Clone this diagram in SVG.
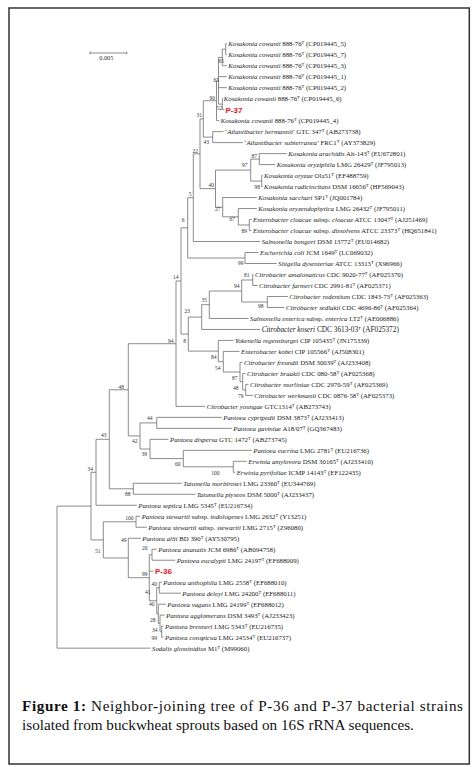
<svg xmlns="http://www.w3.org/2000/svg" width="472" height="767" viewBox="0 0 472 767">
<style>
.l{stroke:#6e6e6e;stroke-width:0.8;fill:none}
.t{font-family:"Liberation Serif","Times New Roman",serif;font-size:6.8px;fill:#222}
.k{font-size:7.3px}
.i{font-style:italic}
.s{font-size:4.6px}
.b{font-family:"Liberation Serif","Times New Roman",serif;font-size:5.5px;fill:#333;text-anchor:end}
.red{font-family:"Liberation Sans",Arial,sans-serif;font-weight:bold;font-size:8px;fill:#e8141b}
.cap{font-family:"Liberation Serif","Times New Roman",serif;font-size:15.2px;fill:#111}
</style>
<rect x="9" y="8" width="460.3" height="756" fill="#fff" stroke="#333" stroke-width="1.5"/>
<g id="scalebar">
<path class="l" d="M90 53H126.7M90 51.5V54.5M126.7 51.5V54.5"/>
<text x="106.3" y="59.5" font-family="Liberation Serif,serif" font-size="6.2" text-anchor="middle" fill="#333">0.005</text>
</g>
<g id="connectors" class="l">
<path d="M225.7 43.7V54.7M225.7 43.7H226.8M225.7 54.7H226.8"/>
<path d="M222.3 49.2V65.7M222.3 49.2H225.7M222.3 65.7H226.8"/>
<path d="M222.3 98.65V109.64M222.3 98.65H223.3M222.3 109.64H224.3"/>
<path d="M218.5 57.45V104.15M218.5 57.45H222.3M218.5 76.67H226.8M218.5 87.66H226.8M218.5 104.15H222.3"/>
<path d="M216.5 80.8V120.63M216.5 80.8H218.5M216.5 120.63H219.5"/>
<path d="M212.7 131.62V142.61M212.7 131.62H223.5M212.7 142.61H242.8"/>
<path d="M203.3 100.7V137.1M203.3 100.7H216.5M203.3 137.1H212.7"/>
<path d="M259.3 153.6V164.59H275.2M259.3 153.6H286.8"/>
<path d="M261.7 175.58V186.57H262.8M261.7 175.58H262.8"/>
<path d="M250.7 159.1V181.1H261.7M250.7 159.1H259.3"/>
<path d="M249.3 219.54V230.53H251.5M249.3 219.54H251.5"/>
<path d="M238.3 208.55V225H249.3M238.3 208.55H256.8"/>
<path d="M222.7 197.56V216.8H238.3M222.7 197.56H256.8"/>
<path d="M215.5 170.1V207.2H222.7M215.5 170.1H250.7"/>
<path d="M200 118.9V188.65H215.5M200 118.9H203.3"/>
<path d="M193.3 153.8V241.52H260.2M193.3 153.8H200"/>
<path d="M245 252.51V263.5H276.8M245 252.51H258.5"/>
<path d="M187.7 197.7V258H245M187.7 197.7H193.3"/>
<path d="M252.7 274.49V285.48H257.5M252.7 274.49H253.5"/>
<path d="M267.3 296.47V307.46H284.5M267.3 296.47H287.8"/>
<path d="M241.7 280V302H267.3M241.7 280H252.7"/>
<path d="M209.3 291V318.45H248.5M209.3 291H241.7"/>
<path d="M201.7 304.7V329.44H260M201.7 304.7H209.3"/>
<path d="M245.7 384.39V395.38H252.8M245.7 384.39H248.5"/>
<path d="M242.7 373.4V389.9H245.7M242.7 373.4H245.5"/>
<path d="M240 362.41V381.65H242.7M240 362.41H242.5"/>
<path d="M223.3 351.42V372H240M223.3 351.42H239.5"/>
<path d="M218.3 340.43V361.7H223.3M218.3 340.43H233.5"/>
<path d="M188.3 317.1V351.1H218.3M188.3 317.1H201.7"/>
<path d="M181 227.85V334.1H188.3M181 227.85H187.7"/>
<path d="M176 281V406.37H205.2M176 281H181"/>
<path d="M156.7 417.36V428.35H231.8M156.7 417.36H221.8"/>
<path d="M233.3 461.32V472.31H235.2M233.3 461.32H246.8"/>
<path d="M183.3 450.33V466.8H233.3M183.3 450.33H251.8"/>
<path d="M150 439.34V458.6H183.3M150 439.34H168.5"/>
<path d="M140 422.9V449H150M140 422.9H156.7"/>
<path d="M128.3 343.7V435.9H140M128.3 343.7H176"/>
<path d="M133.3 483.3V494.29H195.2M133.3 483.3H181.8"/>
<path d="M109.3 389.8V488.8H133.3M109.3 389.8H128.3"/>
<path d="M96 439.3V505.28H136.8M96 439.3H109.3"/>
<path d="M136 516.27V527.26H146.8M136 516.27H140.2"/>
<path d="M161.7 626.17V637.16H163.5M161.7 626.17H163.5"/>
<path d="M160 615.18V631.7H161.7M160 615.18H164.5"/>
<path d="M158.3 604.19V623.4H160M158.3 604.19H165.8"/>
<path d="M159.3 582.21V593.2H180.8M159.3 582.21H161.8"/>
<path d="M156.7 587.7V613.8H158.3M156.7 587.7H159.3"/>
<path d="M152 549.24V560.23H175.2M152 549.24H156.8"/>
<path d="M149.3 554.7V600.75H156.7M149.3 554.7H152M149.3 571.22H153.5"/>
<path d="M128.3 538.25V577.7H149.3M128.3 538.25H140.8"/>
<path d="M103.3 521.8V558H128.3M103.3 521.8H136"/>
<path d="M91 472.3V539.9H103.3M91 472.3H96"/>
<path d="M57 506.1V648.15H150.5M57 506.1H91"/>
</g>
<g id="bootstrap" class="b">
<text x="224" y="63">65</text><text x="219" y="82">65</text><text x="215" y="100.3">90</text><text x="222" y="110">52</text>
<text x="202" y="117">31</text><text x="209" y="143.7">43</text><text x="198" y="152.7">22</text><text x="257" y="157.5">87</text>
<text x="247.5" y="167">97</text><text x="260" y="188.6">98</text><text x="214" y="186.6">40</text><text x="191.5" y="195.7">5</text>
<text x="220.5" y="210.5">27</text><text x="235" y="220.5">67</text><text x="247" y="232.5">89</text><text x="184.5" y="222">6</text>
<text x="243.5" y="264.5">99</text><text x="249.5" y="277">81</text><text x="239.5" y="288.3">94</text><text x="263.5" y="308">98</text>
<text x="207" y="302.3">35</text><text x="190" y="313.3">23</text><text x="178.5" y="279">14</text><text x="173.5" y="342.7">94</text>
<text x="186" y="342.7">8</text><text x="216.5" y="359.3">84</text><text x="220.5" y="370">54</text><text x="237.5" y="380">87</text>
<text x="238.5" y="390">48</text><text x="243.5" y="398.3">79</text><text x="124" y="388.7">48</text><text x="152.5" y="420.3">44</text>
<text x="137.5" y="443">42</text><text x="147" y="456.3">39</text><text x="180.5" y="466">60</text><text x="219.5" y="475.3">100</text>
<text x="106.5" y="437">43</text><text x="93" y="471">34</text><text x="130.5" y="496.3">88</text><text x="133.5" y="519.7">100</text>
<text x="100.5" y="553">51</text><text x="126.5" y="542">49</text><text x="147.5" y="549.7">20</text><text x="147.5" y="576">99</text>
<text x="157" y="586.3">40</text><text x="150.5" y="594">41</text><text x="154.5" y="605.7">40</text><text x="155.5" y="622.3">28</text>
<text x="157.5" y="632.3">34</text><text x="157" y="640">99</text>
</g>
<g id="leaves" class="t">
<g id="kc5"><text x="228.3" y="46"><tspan class="i">Kosakonia cowanii</tspan> 888-76<tspan class="s" dy="-2.4">T</tspan><tspan dy="2.4"> (CP019445_5)</tspan></text></g>
<g id="kc7"><text x="228.3" y="57"><tspan class="i">Kosakonia cowanii</tspan> 888-76<tspan class="s" dy="-2.4">T</tspan><tspan dy="2.4"> (CP019445_7)</tspan></text></g>
<g id="kc3"><text x="228.3" y="68"><tspan class="i">Kosakonia cowanii</tspan> 888-76<tspan class="s" dy="-2.4">T</tspan><tspan dy="2.4"> (CP019445_3)</tspan></text></g>
<g id="kc1"><text x="228.3" y="79"><tspan class="i">Kosakonia cowanii</tspan> 888-76<tspan class="s" dy="-2.4">T</tspan><tspan dy="2.4"> (CP019445_1)</tspan></text></g>
<g id="kc2"><text x="228.3" y="90"><tspan class="i">Kosakonia cowanii</tspan> 888-76<tspan class="s" dy="-2.4">T</tspan><tspan dy="2.4"> (CP019445_2)</tspan></text></g>
<g id="kc6"><text x="223.8" y="101"><tspan class="i">Kosakonia cowanii</tspan> 888-76<tspan class="s" dy="-2.4">T</tspan><tspan dy="2.4"> (CP019445_6)</tspan></text></g>
<g id="p37"><text class="red" x="225.5" y="112.5">P-37</text></g>
<g id="kc4"><text x="220.7" y="123"><tspan class="i">Kosakonia cowanii</tspan> 888-76<tspan class="s" dy="-2.4">T</tspan><tspan dy="2.4"> (CP019445_4)</tspan></text></g>
<g id="aher"><text x="225" y="134">‘<tspan class="i">Atlantibacter hermannii</tspan>’ GTC 347<tspan class="s" dy="-2.4">T</tspan><tspan dy="2.4"> (AB273738)</tspan></text></g>
<g id="asub"><text x="244.3" y="145">‘<tspan class="i">Atlantibacter subterranea</tspan>’ FRC1<tspan class="s" dy="-2.4">T</tspan><tspan dy="2.4"> (AY373829)</tspan></text></g>
<g id="kara"><text x="288.3" y="156"><tspan class="i">Kosakonia arachidis</tspan> Ah-143<tspan class="s" dy="-2.4">T</tspan><tspan dy="2.4"> (EU672801)</tspan></text></g>
<g id="kozp"><text x="276.7" y="167"><tspan class="i">Kosakonia oryziphila</tspan> LMG 26429<tspan class="s" dy="-2.4">T</tspan><tspan dy="2.4"> (JF795013)</tspan></text></g>
<g id="koza"><text x="264" y="178"><tspan class="i">Kosakonia oryzae</tspan> Ola51<tspan class="s" dy="-2.4">T</tspan><tspan dy="2.4"> (EF488759)</tspan></text></g>
<g id="krad"><text x="264" y="189"><tspan class="i">Kosakonia radicincitans</tspan> DSM 16656<tspan class="s" dy="-2.4">T</tspan><tspan dy="2.4"> (HF569043)</tspan></text></g>
<g id="ksac"><text x="258.3" y="200"><tspan class="i">Kosakonia sacchari</tspan> SP1<tspan class="s" dy="-2.4">T</tspan><tspan dy="2.4"> (JQ001784)</tspan></text></g>
<g id="kore"><text x="258.3" y="211"><tspan class="i">Kosakonia oryzendophytica</tspan> LMG 26432<tspan class="s" dy="-2.4">T</tspan><tspan dy="2.4"> (JF795011)</tspan></text></g>
<g id="ecc"><text x="253" y="222"><tspan class="i">Enterobacter cloacae</tspan> subsp. <tspan class="i">cloacae</tspan> ATCC 13047<tspan class="s" dy="-2.4">T</tspan><tspan dy="2.4"> (AJ251469)</tspan></text></g>
<g id="ecd"><text x="253" y="233"><tspan class="i">Enterobacter cloacae</tspan> subsp. <tspan class="i">dissolvens</tspan> ATCC 23373<tspan class="s" dy="-2.4">T</tspan><tspan dy="2.4"> (HQ651841)</tspan></text></g>
<g id="sbon"><text x="261.7" y="244"><tspan class="i">Salmonella bongori</tspan> DSM 13772<tspan class="s" dy="-2.4">T</tspan><tspan dy="2.4"> (EU014682)</tspan></text></g>
<g id="ecol"><text x="260" y="255"><tspan class="i">Escherichia coli</tspan> JCM 1649<tspan class="s" dy="-2.4">T</tspan><tspan dy="2.4"> (LC069032)</tspan></text></g>
<g id="sdys"><text x="278.3" y="266"><tspan class="i">Shigella dysenteriae</tspan> ATCC 13313<tspan class="s" dy="-2.4">T</tspan><tspan dy="2.4"> (X96966)</tspan></text></g>
<g id="cama"><text x="255" y="277"><tspan class="i">Citrobacter amalonaticus</tspan> CDC 9020-77<tspan class="s" dy="-2.4">T</tspan><tspan dy="2.4"> (AF025370)</tspan></text></g>
<g id="cfar"><text x="259" y="288"><tspan class="i">Citrobacter farmeri</tspan> CDC 2991-81<tspan class="s" dy="-2.4">T</tspan><tspan dy="2.4"> (AF025371)</tspan></text></g>
<g id="crod"><text x="289.3" y="299"><tspan class="i">Citrobacter rodentium</tspan> CDC 1843-73<tspan class="s" dy="-2.4">T</tspan><tspan dy="2.4"> (AF025363)</tspan></text></g>
<g id="csed"><text x="286" y="310"><tspan class="i">Citrobacter sedlakii</tspan> CDC 4696-86<tspan class="s" dy="-2.4">T</tspan><tspan dy="2.4"> (AF025364)</tspan></text></g>
<g id="sent"><text x="250" y="321"><tspan class="i">Salmonella enterica</tspan> subsp. <tspan class="i">enterica</tspan> LT2<tspan class="s" dy="-2.4">T</tspan><tspan dy="2.4"> (AE006886)</tspan></text></g>
<g id="ckos"><text class="k" x="261.7" y="332.1"><tspan class="i">Citrobacter koseri</tspan> CDC 3613-03<tspan class="s" dy="-2.6">T</tspan><tspan dy="2.6"> (AF025372)</tspan></text></g>
<g id="yreg"><text x="235" y="343"><tspan class="i">Yokenella regensburgei</tspan> CIP 105435<tspan class="s" dy="-2.4">T</tspan><tspan dy="2.4"> (JN175339)</tspan></text></g>
<g id="ekob"><text x="241" y="354"><tspan class="i">Enterobacter kobei</tspan> CIP 105566<tspan class="s" dy="-2.4">T</tspan><tspan dy="2.4"> (AJ508301)</tspan></text></g>
<g id="cfre"><text x="244" y="365"><tspan class="i">Citrobacter freundii</tspan> DSM 30039<tspan class="s" dy="-2.4">T</tspan><tspan dy="2.4"> (AJ233408)</tspan></text></g>
<g id="cbra"><text x="247" y="376"><tspan class="i">Citrobacter braakii</tspan> CDC 080-58<tspan class="s" dy="-2.4">T</tspan><tspan dy="2.4"> (AF025368)</tspan></text></g>
<g id="cmur"><text x="250" y="387"><tspan class="i">Citrobacter murliniae</tspan> CDC 2970-59<tspan class="s" dy="-2.4">T</tspan><tspan dy="2.4"> (AF025369)</tspan></text></g>
<g id="cwer"><text x="254.3" y="398"><tspan class="i">Citrobacter werkmanii</tspan> CDC 0876-58<tspan class="s" dy="-2.4">T</tspan><tspan dy="2.4"> (AF025373)</tspan></text></g>
<g id="cyou"><text x="206.7" y="409"><tspan class="i">Citrobacter youngae</tspan> GTC1314<tspan class="s" dy="-2.4">T</tspan><tspan dy="2.4"> (AB273743)</tspan></text></g>
<g id="pcyp"><text x="223.3" y="420"><tspan class="i">Pantoea cypripedii</tspan> DSM 3873<tspan class="s" dy="-2.4">T</tspan><tspan dy="2.4"> (AJ233413)</tspan></text></g>
<g id="pgav"><text x="233.3" y="431"><tspan class="i">Pantoea gaviniae</tspan> A18/07<tspan class="s" dy="-2.4">T</tspan><tspan dy="2.4"> (GQ367483)</tspan></text></g>
<g id="pdis"><text x="170" y="442"><tspan class="i">Pantoea dispersa</tspan> GTC 1472<tspan class="s" dy="-2.4">T</tspan><tspan dy="2.4"> (AB273745)</tspan></text></g>
<g id="peuc"><text x="253.3" y="453"><tspan class="i">Pantoea eucrina</tspan> LMG 2781<tspan class="s" dy="-2.4">T</tspan><tspan dy="2.4"> (EU216736)</tspan></text></g>
<g id="eamy"><text x="248.3" y="464"><tspan class="i">Erwinia amylovora</tspan> DSM 30165<tspan class="s" dy="-2.4">T</tspan><tspan dy="2.4"> (AJ233410)</tspan></text></g>
<g id="epyr"><text x="236.7" y="475"><tspan class="i">Erwinia pyrifoliae</tspan> ICMP 14143<tspan class="s" dy="-2.4">T</tspan><tspan dy="2.4"> (EF122435)</tspan></text></g>
<g id="tmor"><text x="183.3" y="486"><tspan class="i">Tatumella morbirosei</tspan> LMG 23360<tspan class="s" dy="-2.4">T</tspan><tspan dy="2.4"> (EU344769)</tspan></text></g>
<g id="tpty"><text x="196.7" y="497"><tspan class="i">Tatumella ptyseos</tspan> DSM 5000<tspan class="s" dy="-2.4">T</tspan><tspan dy="2.4"> (AJ233437)</tspan></text></g>
<g id="psep"><text x="138.3" y="508"><tspan class="i">Pantoea septica</tspan> LMG 5345<tspan class="s" dy="-2.4">T</tspan><tspan dy="2.4"> (EU216734)</tspan></text></g>
<g id="psti"><text x="141.7" y="519"><tspan class="i">Pantoea stewartii</tspan> subsp. <tspan class="i">indologenes</tspan> LMG 2632<tspan class="s" dy="-2.4">T</tspan><tspan dy="2.4"> (Y13251)</tspan></text></g>
<g id="psts"><text x="148.3" y="530"><tspan class="i">Pantoea stewartii</tspan> subsp. <tspan class="i">stewartii</tspan> LMG 2715<tspan class="s" dy="-2.4">T</tspan><tspan dy="2.4"> (Z96080)</tspan></text></g>
<g id="pall"><text x="142.3" y="541"><tspan class="i">Pantoea allii</tspan> BD 390<tspan class="s" dy="-2.4">T</tspan><tspan dy="2.4"> (AY530795)</tspan></text></g>
<g id="pana"><text x="158.3" y="552"><tspan class="i">Pantoea ananatis</tspan> JCM 6986<tspan class="s" dy="-2.4">T</tspan><tspan dy="2.4"> (AB094758)</tspan></text></g>
<g id="peua"><text x="176.7" y="563"><tspan class="i">Pantoea eucalypti</tspan> LMG 24197<tspan class="s" dy="-2.4">T</tspan><tspan dy="2.4"> (EF688009)</tspan></text></g>
<g id="p36"><text class="red" x="155" y="574.1">P-36</text></g>
<g id="pant"><text x="163.3" y="585"><tspan class="i">Pantoea anthophila</tspan> LMG 2558<tspan class="s" dy="-2.4">T</tspan><tspan dy="2.4"> (EF688010)</tspan></text></g>
<g id="pdel"><text x="182.3" y="596"><tspan class="i">Pantoea deleyi</tspan> LMG 24200<tspan class="s" dy="-2.4">T</tspan><tspan dy="2.4"> (EF688011)</tspan></text></g>
<g id="pvag"><text x="167.3" y="607"><tspan class="i">Pantoea vagans</tspan> LMG 24199<tspan class="s" dy="-2.4">T</tspan><tspan dy="2.4"> (EF688012)</tspan></text></g>
<g id="pagg"><text x="166" y="618"><tspan class="i">Pantoea agglomerans</tspan> DSM 3493<tspan class="s" dy="-2.4">T</tspan><tspan dy="2.4"> (AJ233423)</tspan></text></g>
<g id="pbre"><text x="165" y="629"><tspan class="i">Pantoea brenneri</tspan> LMG 5343<tspan class="s" dy="-2.4">T</tspan><tspan dy="2.4"> (EU216735)</tspan></text></g>
<g id="pcon"><text x="165" y="640"><tspan class="i">Pantoea conspicua</tspan> LMG 24534<tspan class="s" dy="-2.4">T</tspan><tspan dy="2.4"> (EU216737)</tspan></text></g>
<g id="sglo"><text x="152" y="651"><tspan class="i">Sodalis glossinidius</tspan> M1<tspan class="s" dy="-2.4">T</tspan><tspan dy="2.4"> (M99060)</tspan></text></g>
</g>
<g id="caption" class="cap">
<text x="22" y="711" textLength="441" lengthAdjust="spacing"><tspan font-weight="bold">Figure 1:</tspan> Neighbor-joining tree of P-36 and P-37 bacterial strains</text>
<text x="22" y="730">isolated from buckwheat sprouts based on 16S rRNA sequences.</text>
</g>
</svg>
